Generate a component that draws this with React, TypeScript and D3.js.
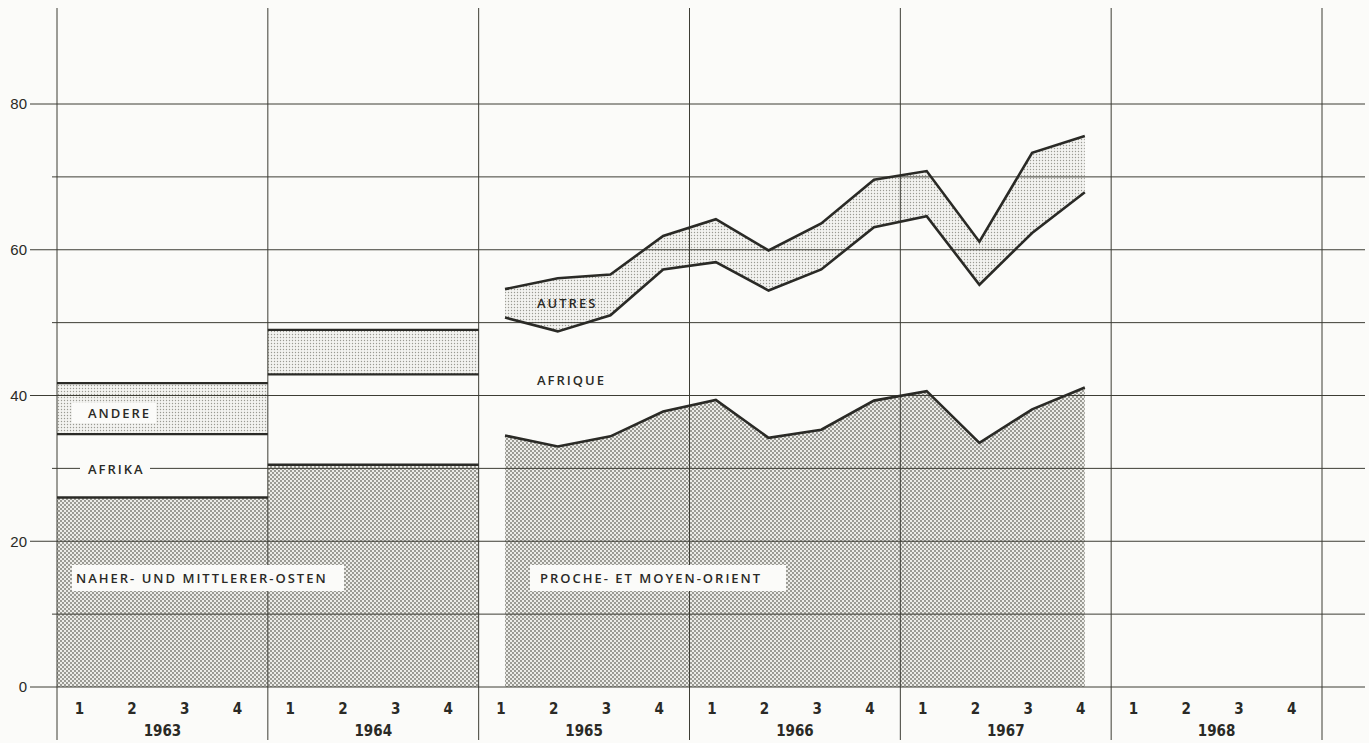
import React from "react";
import * as d3 from "d3";

// ---- data ----
const years = ["1963", "1964", "1965", "1966", "1967", "1968"];
const quarters = ["1", "2", "3", "4"];
const yTicks = [0, 20, 40, 60, 80];
const gridValues = [0, 10, 20, 30, 40, 50, 60, 70, 80];

// annual figures (1963, 1964) – cumulative tops
const annualYears = ["1963", "1964"];
const annualMiddleEast = [26.0, 30.5];
const annualAfrica = [34.7, 42.9];
const annualOther = [41.7, 49.0];

// quarterly figures 1965–1967 – cumulative tops
const qYears = ["1965", "1965", "1965", "1965", "1966", "1966", "1966", "1966", "1967", "1967", "1967", "1967"];
const qQuarters = ["1", "2", "3", "4", "1", "2", "3", "4", "1", "2", "3", "4"];
const qMiddleEast = [34.5, 33.0, 34.4, 37.8, 39.4, 34.2, 35.3, 39.3, 40.6, 33.5, 38.1, 41.1];
const qAfrica = [50.7, 48.8, 51.0, 57.3, 58.3, 54.4, 57.3, 63.1, 64.6, 55.2, 62.3, 67.9];
const qOther = [54.6, 56.1, 56.6, 61.9, 64.2, 59.9, 63.6, 69.6, 70.8, 61.1, 73.3, 75.6];

const W = 1369;
const H = 743;
const x0 = 57;
const x1 = 1322;
const yBase = 687;

export default function App() {
  const yearScale = d3.scaleBand<string>().domain(years).range([x0, x1]).padding(0);
  const qScale = d3.scaleBand<string>().domain(quarters).range([0, yearScale.bandwidth()]).padding(0);
  const y = d3.scaleLinear().domain([0, 80]).range([yBase, 104]);

  const qx = (yr: string, q: string) => (yearScale(yr) as number) + (qScale(q) as number) + qScale.bandwidth() / 2;

  const pts = qYears.map((yr, i) => ({ x: qx(yr, qQuarters[i]), me: qMiddleEast[i], af: qAfrica[i], ot: qOther[i] }));

  const line = (key: "me" | "af" | "ot") =>
    d3.line<any>().x((d) => d.x).y((d) => y(d[key]))(pts) as string;
  const areaME = d3.area<any>().x((d) => d.x).y0(y(0)).y1((d) => y(d.me))(pts) as string;
  const areaOT = d3.area<any>().x((d) => d.x).y0((d) => y(d.af)).y1((d) => y(d.ot))(pts) as string;

  const ink = "#2a2a26";
  const grid = "#3d3d35";
  const labelFont = "'Open Sans', 'DejaVu Sans', sans-serif";
  const tickFont = "'Liberation Sans', Arial, sans-serif";
  const numFont = "'DejaVu Sans Condensed', 'DejaVu Sans', sans-serif";

  return (
    <svg width={W} height={H} style={{ position: "absolute", left: 0, top: 0, background: "#fbfbf9" }}>
      <defs>
        <pattern id="dense" width="4" height="4" patternUnits="userSpaceOnUse">
          <rect width="4" height="4" fill="#ecece8" />
          <circle cx="1" cy="1" r="0.9" fill="#74746c" />
          <circle cx="3" cy="3" r="0.9" fill="#74746c" />
        </pattern>
        <pattern id="light" width="3" height="3" patternUnits="userSpaceOnUse">
          <rect width="3" height="3" fill="#f3f3f0" />
          <circle cx="1.5" cy="1.5" r="0.7" fill="#9a9a92" />
        </pattern>
      </defs>
      <rect width={W} height={H} fill="#fbfbf9" />

      {/* annual areas */}
      {annualYears.map((yr, i) => {
        const xa = yearScale(yr) as number;
        const xb = xa + yearScale.bandwidth();
        return (
          <g key={yr}>
            <rect x={xa} y={y(annualMiddleEast[i])} width={xb - xa} height={y(0) - y(annualMiddleEast[i])} fill="url(#dense)" />
            <rect x={xa} y={y(annualOther[i])} width={xb - xa} height={y(annualAfrica[i]) - y(annualOther[i])} fill="url(#light)" />
          </g>
        );
      })}

      {/* quarterly areas */}
      <path d={areaME} fill="url(#dense)" />
      <path d={areaOT} fill="url(#light)" />

      {/* horizontal grid */}
      {gridValues.map((v) => (
        <line key={v} x1={yTicks.includes(v) ? 30 : 52} x2={1365} y1={y(v)} y2={y(v)} stroke={grid} strokeWidth={1} />
      ))}
      {/* vertical grid */}
      {years.map((yr) => (
        <line key={yr} x1={yearScale(yr) as number} x2={yearScale(yr) as number} y1={8} y2={740} stroke={grid} strokeWidth={1} />
      ))}
      <line x1={x1} x2={x1} y1={8} y2={740} stroke={grid} strokeWidth={1} />

      {/* y labels */}
      {yTicks.map((v) => (
        <text key={v} x={27} y={y(v)} dy="0.35em" textAnchor="end" fontFamily={tickFont} fontSize={15} fill={ink}>
          {v}
        </text>
      ))}

      {/* annual lines */}
      {annualYears.map((yr, i) => {
        const xa = yearScale(yr) as number;
        const xb = xa + yearScale.bandwidth();
        return [annualMiddleEast[i], annualAfrica[i], annualOther[i]].map((v, k) => (
          <line key={yr + k} x1={xa} x2={xb} y1={y(v)} y2={y(v)} stroke={ink} strokeWidth={2.4} />
        ));
      })}

      {/* quarterly lines */}
      {(["me", "af", "ot"] as const).map((k) => (
        <path key={k} d={line(k)} fill="none" stroke={ink} strokeWidth={2.6} strokeLinejoin="miter" />
      ))}

      {/* series labels */}
      <g fontFamily={labelFont} fontSize={13} fontWeight={600} letterSpacing={2} fill={ink}>
        <rect x={72} y={403} width={84} height={20} fill="#fbfbf9" />
        <text x={88} y={418}>ANDERE</text>
        <rect x={80} y={459} width={70} height={20} fill="#fbfbf9" />
        <text x={88} y={474}>AFRIKA</text>
        <rect x={72} y={565} width={272} height={26} fill="#fbfbf9" />
        <text x={76} y={583}>NAHER- UND MITTLERER-OSTEN</text>
        <text x={537} y={308}>AUTRES</text>
        <text x={537} y={385}>AFRIQUE</text>
        <rect x={530} y={565} width={256} height={26} fill="#fbfbf9" />
        <text x={540} y={583}>PROCHE- ET MOYEN-ORIENT</text>
      </g>

      {/* x labels */}
      {years.map((yr) => (
        <g key={yr}>
          {quarters.map((q) => (
            <text key={q} x={qx(yr, q) - 4} y={714} textAnchor="middle" fontFamily={numFont} fontStretch="condensed" fontSize={15} fontWeight={700} fill={ink}>
              {q}
            </text>
          ))}
          <text x={(yearScale(yr) as number) + yearScale.bandwidth() / 2} y={736} textAnchor="middle" fontFamily={numFont} fontStretch="condensed" fontSize={15} fontWeight={700} fill={ink}>
            {yr}
          </text>
        </g>
      ))}
    </svg>
  );
}
